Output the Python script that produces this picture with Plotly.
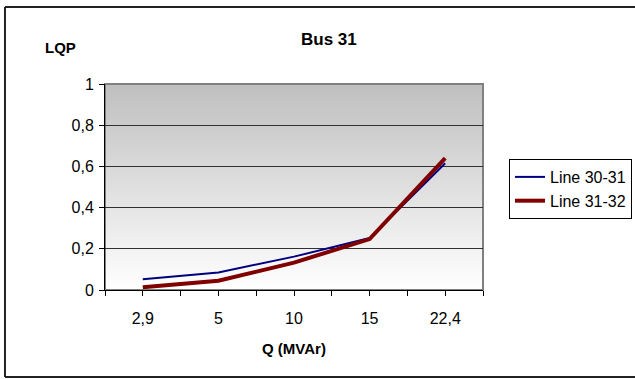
import base64
import plotly.graph_objects as go

# ---- data ----
categories = ["2,9", "5", "10", "15", "22,4"]
line_30_31 = [0.052, 0.085, 0.162, 0.252, 0.615]
line_31_32 = [0.013, 0.045, 0.133, 0.247, 0.640]
y_ticks = [0, 0.2, 0.4, 0.6, 0.8, 1]

x_idx = list(range(len(categories)))

FONT = "Liberation Sans, Arial, sans-serif"

fig = go.Figure()
fig.add_trace(go.Scatter(x=x_idx, y=line_30_31, mode="lines", name="Line 30-31",
                         line=dict(color="#000080", width=2)))
fig.add_trace(go.Scatter(x=x_idx, y=line_31_32, mode="lines", name="Line 31-32",
                         line=dict(color="#800000", width=4)))

# gradient plot background as an SVG image
svg = ('<svg xmlns="http://www.w3.org/2000/svg" width="100" height="100" viewBox="0 0 100 100" '
       'preserveAspectRatio="none"><defs><linearGradient id="g" x1="0" y1="0" x2="0" y2="1">'
       '<stop offset="0" stop-color="#bfbfbf"/><stop offset="1" stop-color="#ffffff"/>'
       '</linearGradient></defs><rect width="100" height="100" fill="url(#g)"/></svg>')
src = "data:image/svg+xml;base64," + base64.b64encode(svg.encode()).decode()

border = dict(color="#222222", width=2)
bx0, bx1, by0, by1 = -0.2646, 1.6, -0.4223, 1.3738

fig.update_layout(
    width=635, height=379,
    margin=dict(l=105, r=152, t=84, b=89, autoexpand=False),
    paper_bgcolor="white", plot_bgcolor="rgba(0,0,0,0)",
    separators=", ",
    font=dict(family=FONT, color="black", size=15),
    showlegend=True,
    legend=dict(xref="container", yref="container", x=0.8016, y=0.5805,
                xanchor="left", yanchor="top",
                bordercolor="black", borderwidth=1, bgcolor="white",
                font=dict(size=16), tracegroupgap=0),
    images=[dict(source=src, xref="paper", yref="paper", x=0, y=1, sizex=1, sizey=1,
                 sizing="stretch", layer="below", xanchor="left", yanchor="top")],
    xaxis=dict(range=[-0.5, len(categories) - 0.5], tickmode="array", tickvals=x_idx,
               ticktext=categories, ticks="outside", ticklen=5, tickcolor="black",
               showline=True, linecolor="black", linewidth=1, showgrid=False, zeroline=False,
               tickfont=dict(size=16), ticklabelstandoff=9,
               minor=dict(tickmode="array", tickvals=[i - 0.5 for i in range(len(categories) + 1)],
                          ticks="outside", ticklen=5, tickcolor="black", showgrid=False)),
    yaxis=dict(range=[0, 1], tickmode="array", tickvals=y_ticks, ticks="outside", ticklen=5,
               tickcolor="black", showline=True, linecolor="black", linewidth=1,
               showgrid=True, gridcolor="#303030", gridwidth=1, zeroline=False,
               tickfont=dict(size=16), tickformat=".1~f", ticklabelstandoff=2),
    shapes=[
        # plot area frame (top/right in gray)
        dict(type="rect", xref="paper", yref="paper", x0=0, x1=1, y0=0, y1=1,
             line=dict(color="#808080", width=2), layer="below"),
        # outer chart border: top, left, bottom (right edge falls outside the picture)
        dict(type="line", xref="paper", yref="paper", x0=bx0, x1=bx1, y0=by1, y1=by1, line=border),
        dict(type="line", xref="paper", yref="paper", x0=bx0, x1=bx0, y0=by0, y1=by1, line=border),
        dict(type="line", xref="paper", yref="paper", x0=bx0, x1=bx1, y0=by0, y1=by0, line=border),
    ],
    annotations=[
        dict(text="<b>Bus 31</b>", xref="paper", yref="paper", x=0.593, y=1.2136,
             showarrow=False, font=dict(size=17), xanchor="center", yanchor="middle"),
        dict(text="<b>LQP</b>", xref="paper", yref="paper", x=-0.119, y=1.175,
             showarrow=False, font=dict(size=15), xanchor="center", yanchor="middle"),
        dict(text="<b>Q (MVAr)</b>", xref="paper", yref="paper", x=0.5, y=-0.2816,
             showarrow=False, font=dict(size=15), xanchor="center", yanchor="middle"),
    ],
)

fig.write_html("out.html", config={"displayModeBar": False},
               post_script="document.body.style.margin='0';document.body.style.overflow='hidden';")
